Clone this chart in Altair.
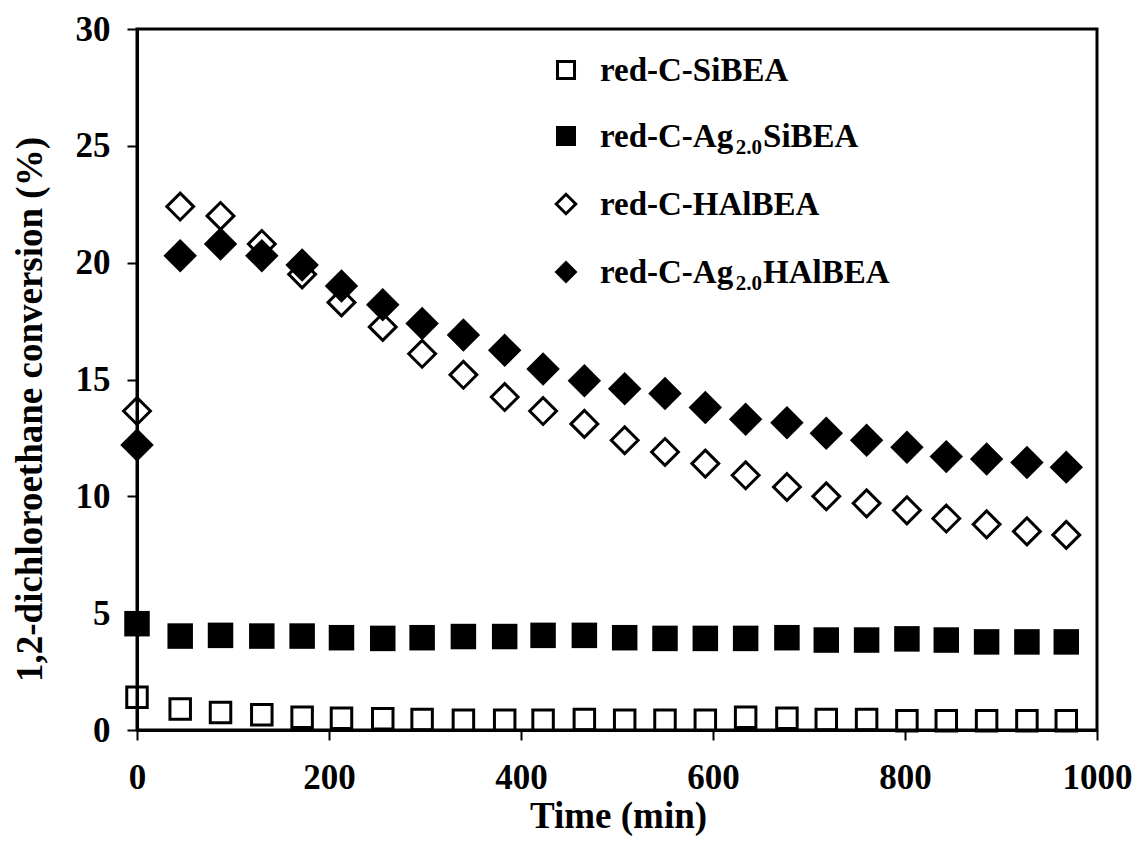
import altair as alt
import pandas as pd

# ---- data ----
times = [0, 45, 87, 130, 172, 213, 256, 297, 340, 383, 423, 466,
         508, 550, 592, 634, 677, 718, 760, 802, 843, 885, 927, 968]

si_bea = [1.40, 0.90, 0.75, 0.65, 0.55, 0.50, 0.48, 0.45, 0.42, 0.42, 0.42, 0.45,
          0.42, 0.42, 0.42, 0.55, 0.50, 0.45, 0.45, 0.40, 0.40, 0.40, 0.40, 0.40]
ag_si_bea = [4.55, 4.02, 4.05, 4.02, 4.02, 3.95, 3.92, 3.95, 4.00, 4.00, 4.05, 4.05,
             3.95, 3.92, 3.92, 3.92, 3.95, 3.85, 3.85, 3.90, 3.85, 3.77, 3.77, 3.77]
hal_bea = [13.65, 22.4, 22.0, 20.8, 19.5, 18.3, 17.25, 16.1, 15.2, 14.25, 13.65, 13.1,
           12.4, 11.9, 11.4, 10.9, 10.4, 10.0, 9.7, 9.4, 9.05, 8.8, 8.5, 8.35]
ag_hal_bea = [12.2, 20.3, 20.8, 20.3, 19.9, 19.0, 18.2, 17.4, 16.9, 16.25, 15.45, 14.95,
              14.6, 14.4, 13.8, 13.3, 13.15, 12.7, 12.4, 12.1, 11.7, 11.6, 11.45, 11.25]

series_names = ["red-C-SiBEA", "red-C-Ag2.0SiBEA", "red-C-HAlBEA", "red-C-Ag2.0HAlBEA"]
series_values = [si_bea, ag_si_bea, hal_bea, ag_hal_bea]

x_ticks = [0, 200, 400, 600, 800, 1000]
y_ticks = [0, 5, 10, 15, 20, 25, 30]

rows = []
for name, vals in zip(series_names, series_values):
    for t, v in zip(times, vals):
        rows.append({"time": t, "value": v, "series": name})
df = pd.DataFrame(rows)

FONT = "Liberation Serif"
W, H = 960, 701

xs = alt.Scale(domain=[0, 1000], nice=False, zero=False)
ys = alt.Scale(domain=[0, 30], nice=False, zero=False)

x_axis = alt.Axis(values=x_ticks, format="d", title="Time (min)", grid=False,
                  tickSize=10, tickWidth=2, tickColor="black",
                  domainColor="black", domainWidth=3,
                  labelFont=FONT, labelFontSize=35, labelFontWeight="bold", labelColor="black",
                  labelBaseline="alphabetic", labelPadding=48, labelFlush=False,
                  titleFont=FONT, titleFontSize=37, titleFontWeight="bold", titleColor="black",
                  titleX=481, titleY=97, titleBaseline="alphabetic", titleAlign="center")
y_axis = alt.Axis(values=y_ticks, format="d", title="1,2-dichloroethane conversion (%)", grid=False,
                  tickSize=10, tickWidth=2, tickColor="black",
                  domainColor="black", domainWidth=3,
                  labelFont=FONT, labelFontSize=35, labelFontWeight="bold", labelColor="black",
                  labelPadding=17, labelFlush=False,
                  titleFont=FONT, titleFontSize=37, titleFontWeight="bold", titleColor="black",
                  titleAngle=-90, titleX=-96, titleY=380, titleBaseline="alphabetic",
                  titleAlign="center")

base = alt.Chart(df)


def mark_props(shape, filled, size, sw):
    if filled:
        return dict(shape=shape, filled=True, size=size, color="black", opacity=1)
    return dict(shape=shape, filled=False, size=size, strokeWidth=sw, stroke="black",
                fill="transparent", opacity=1)


def layer(name, shape, filled, size, sw):
    return base.transform_filter(alt.datum.series == name).mark_point(
        **mark_props(shape, filled, size, sw)).encode(
        x=alt.X("time:Q", scale=xs, axis=x_axis),
        y=alt.Y("value:Q", scale=ys, axis=y_axis),
    )


pts = [
    layer(series_names[0], "square", False, 420, 3),
    layer(series_names[1], "square", True, 650, 0),
    layer(series_names[3], "diamond", True, 1120, 0),
    layer(series_names[2], "diamond", False, 720, 3),
]

# ---- legend (drawn by hand: subscripts in text) ----
LF = 33
SUB = 21
leg_sym_x = 429
leg_txt_x = 463
leg_rows = [41, 107, 175, 243]
EM_RED_C_AG = 4.054   # em width of "red-C-Ag" in Liberation Serif Bold
EM_SUB = 1.25         # em width of "2.0"

one = pd.DataFrame({"k": [0]})
leg_layers = []
sym_specs = [("square", False, 290, 3), ("square", True, 400, 0),
             ("diamond", False, 380, 3), ("diamond", True, 530, 0)]
for (shape, filled, size, sw), yy in zip(sym_specs, leg_rows):
    leg_layers.append(alt.Chart(one).mark_point(**mark_props(shape, filled, size, sw)).encode(
        x=alt.value(leg_sym_x), y=alt.value(yy)))


def txt(s, x, y, size):
    return alt.Chart(one).mark_text(text=s, font=FONT, fontSize=size, fontWeight="bold",
                                    align="left", baseline="alphabetic",
                                    color="black").encode(x=alt.value(x), y=alt.value(y))


for yy, (pre, sub, post) in zip(leg_rows, [("red-C-SiBEA", "", ""),
                                           ("red-C-Ag", "2.0", "SiBEA"),
                                           ("red-C-HAlBEA", "", ""),
                                           ("red-C-Ag", "2.0", "HAlBEA")]):
    base_y = yy + 11
    leg_layers.append(txt(pre, leg_txt_x, base_y, LF))
    if sub:
        x2 = leg_txt_x + EM_RED_C_AG * LF + 2
        leg_layers.append(txt(sub, x2, base_y + 7, SUB))
        x3 = x2 + EM_SUB * SUB + 1
        leg_layers.append(txt(post, x3, base_y, LF))

chart = alt.layer(*pts, *leg_layers).properties(
    width=W, height=H,
    autosize=alt.AutoSizeParams(type="none"),
    padding={"left": 129, "top": 21, "right": 35, "bottom": 106},
).configure(background="white").configure_view(stroke="black", strokeWidth=3)

chart.save("out.html", embed_options={"renderer": "svg", "actions": False})
